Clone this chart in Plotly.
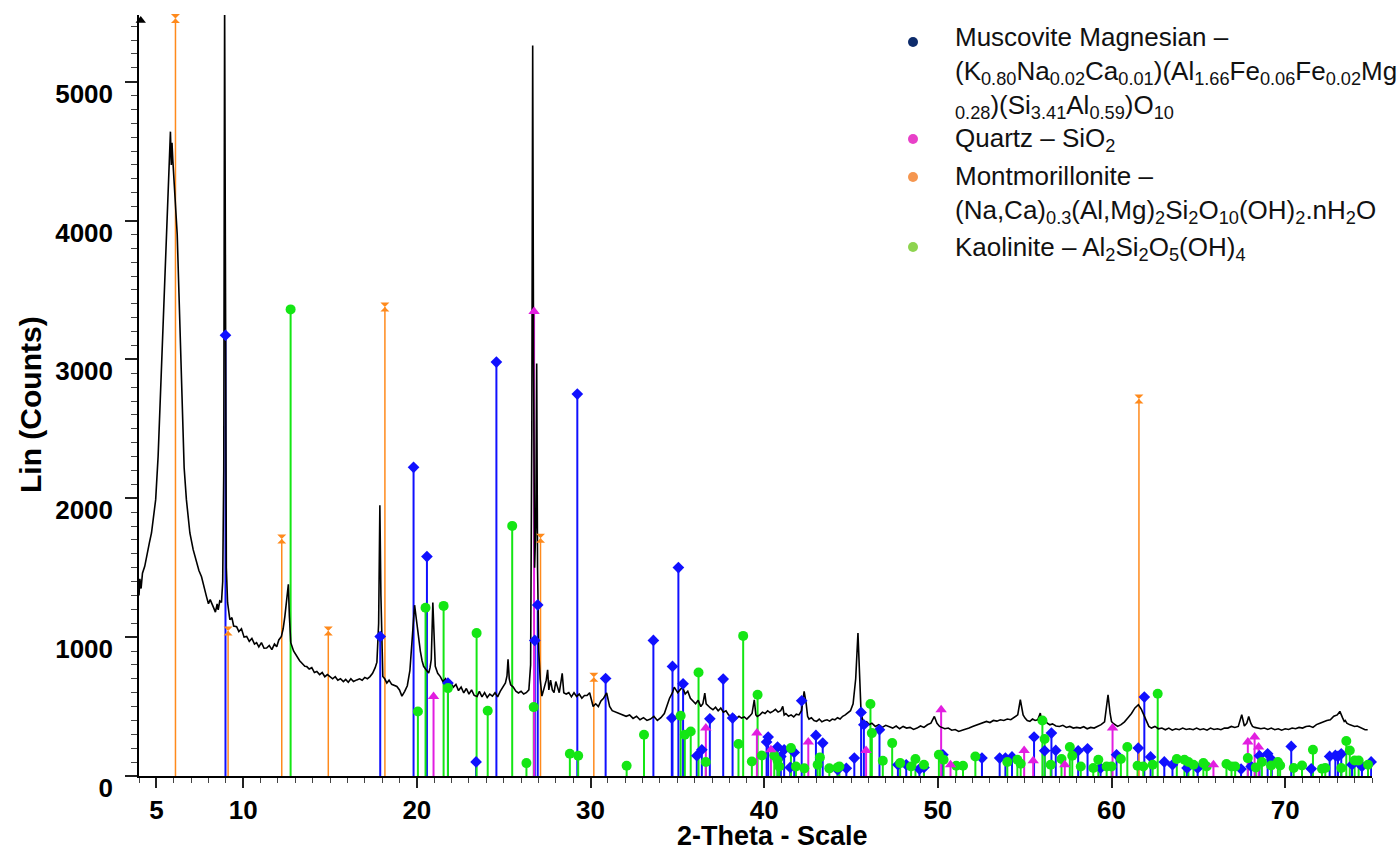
import plotly.graph_objects as go

# Measured diffraction pattern (2-theta, counts)
two_theta = [
    4.00, 4.05, 4.12, 4.20, 4.33, 4.40, 4.50, 4.60, 4.72, 4.85, 4.96, 5.10, 5.25, 5.38, 5.47,
    5.58, 5.66, 5.72, 5.78, 5.81, 5.86, 5.90, 5.95, 6.06, 6.12, 6.20, 6.30, 6.40, 6.50, 6.60,
    6.73, 6.93, 7.12, 7.31, 7.45, 7.60, 7.75, 7.89, 8.00, 8.10, 8.27, 8.40, 8.50, 8.56, 8.65,
    8.75, 8.82, 8.88, 8.93, 8.98, 9.03, 9.10, 9.23, 9.35, 9.45, 9.62, 9.75, 9.90, 10.05, 10.20,
    10.35, 10.50, 10.65, 10.77, 10.90, 11.05, 11.20, 11.35, 11.50, 11.65, 11.80, 11.93, 12.05,
    12.20, 12.30, 12.40, 12.50, 12.60, 12.66, 12.74, 12.90, 13.08, 13.25, 13.40, 13.55, 13.66,
    13.80, 13.95, 14.10, 14.24, 14.40, 14.55, 14.70, 14.85, 15.00, 15.15, 15.30, 15.45, 15.60,
    15.77, 15.90, 16.05, 16.20, 16.35, 16.54, 16.70, 16.85, 17.00, 17.15, 17.30, 17.45, 17.60,
    17.70, 17.80, 17.87, 17.93, 18.04, 18.15, 18.27, 18.40, 18.55, 18.70, 18.85, 19.00, 19.14,
    19.30, 19.45, 19.60, 19.72, 19.80, 19.87, 20.00, 20.10, 20.20, 20.30, 20.39, 20.50, 20.60,
    20.68, 20.76, 20.83, 20.92, 20.99, 21.06, 21.20, 21.35, 21.50, 21.65, 21.80, 21.95, 22.10,
    22.25, 22.40, 22.55, 22.70, 22.85, 23.00, 23.15, 23.30, 23.47, 23.60, 23.75, 23.90, 24.05,
    24.20, 24.35, 24.50, 24.65, 24.80, 24.95, 25.10, 25.19, 25.25, 25.32, 25.40, 25.55, 25.70,
    25.85, 26.00, 26.15, 26.30, 26.45, 26.55, 26.62, 26.67, 26.72, 26.78, 26.85, 26.90, 26.95,
    27.02, 27.10, 27.20, 27.30, 27.45, 27.53, 27.60, 27.70, 27.80, 27.90, 28.00, 28.10, 28.20,
    28.30, 28.37, 28.46, 28.60, 28.75, 28.90, 29.05, 29.20, 29.35, 29.50, 29.65, 29.80, 29.95,
    30.05, 30.15, 30.30, 30.45, 30.60, 30.75, 30.93, 31.02, 31.10, 31.25, 31.45, 31.65, 31.85,
    32.05, 32.25, 32.45, 32.65, 32.85, 33.05, 33.25, 33.45, 33.65, 33.85, 34.05, 34.25, 34.40,
    34.55, 34.72, 34.82, 34.92, 35.02, 35.15, 35.30, 35.45, 35.60, 35.75, 35.90, 36.05, 36.20,
    36.35, 36.47, 36.58, 36.66, 36.78, 36.90, 37.05, 37.20, 37.35, 37.50, 37.65, 37.80, 37.95,
    38.10, 38.25, 38.40, 38.55, 38.70, 38.85, 39.00, 39.15, 39.30, 39.43, 39.52, 39.60, 39.75,
    39.90, 40.05, 40.20, 40.35, 40.50, 40.65, 40.80, 40.95, 41.07, 41.15, 41.25, 41.40, 41.55,
    41.70, 41.85, 42.00, 42.15, 42.30, 42.42, 42.50, 42.58, 42.72, 42.87, 43.02, 43.17, 43.32,
    43.47, 43.62, 43.77, 43.92, 44.07, 44.22, 44.37, 44.52, 44.67, 44.82, 44.97, 45.12, 45.27,
    45.40, 45.50, 45.58, 45.66, 45.76, 45.90, 46.05, 46.20, 46.40, 46.60, 46.80, 47.00, 47.20,
    47.40, 47.60, 47.80, 48.00, 48.20, 48.40, 48.60, 48.80, 49.00, 49.20, 49.40, 49.60, 49.80,
    49.95, 50.10, 50.22, 50.40, 50.60, 50.80, 51.00, 51.20, 51.40, 51.60, 51.80, 52.00, 52.20,
    52.40, 52.60, 52.80, 53.00, 53.20, 53.40, 53.60, 53.80, 54.00, 54.20, 54.40, 54.60, 54.75,
    54.91, 55.02, 55.15, 55.30, 55.45, 55.60, 55.75, 55.90, 55.97, 56.05, 56.15, 56.30, 56.45,
    56.60, 56.80, 57.00, 57.20, 57.40, 57.60, 57.80, 58.00, 58.20, 58.40, 58.60, 58.80, 59.00,
    59.20, 59.40, 59.60, 59.80, 59.92, 60.00, 60.08, 60.20, 60.35, 60.55, 60.75, 60.95, 61.15,
    61.35, 61.55, 61.72, 61.89, 62.02, 62.15, 62.30, 62.50, 62.70, 62.90, 63.10, 63.30, 63.50,
    63.70, 63.90, 64.10, 64.30, 64.50, 64.70, 64.90, 65.10, 65.30, 65.50, 65.70, 65.90, 66.10,
    66.30, 66.50, 66.70, 66.90, 67.10, 67.30, 67.50, 67.65, 67.79, 67.90, 68.02, 68.12, 68.25,
    68.40, 68.60, 68.80, 69.00, 69.20, 69.40, 69.60, 69.80, 70.00, 70.20, 70.40, 70.60, 70.80,
    71.00, 71.20, 71.40, 71.60, 71.80, 72.00, 72.20, 72.40, 72.60, 72.80, 73.00, 73.15, 73.30,
    73.40, 73.46, 73.55, 73.70, 73.85, 74.00, 74.15, 74.30, 74.45, 74.60, 74.75, 74.96,
]
counts = [
    1300, 1420, 1350, 1460, 1510, 1560, 1600, 1680, 1750, 1880, 1990, 2300, 2800, 3200, 3520,
    3950, 4150, 4460, 4600, 4640, 4400, 4560, 4430, 4200, 4050, 3900, 3480, 3000, 2560, 2220,
    1990, 1750, 1630, 1545, 1480, 1435, 1350, 1290, 1240, 1270, 1220, 1180, 1240, 1196, 1260,
    1250, 1400, 2200, 5600, 3000, 1500, 1250, 1125, 1140, 1080, 1075, 1040, 1060, 1000, 1005,
    970, 990, 950, 960, 930, 960, 920, 922, 940, 910, 950, 930, 980,
    1005, 1060, 1150, 1250, 1380, 1150, 960, 900, 860, 830, 810, 790, 788,
    770, 780, 745, 752, 730, 745, 715, 730, 716, 700, 715, 690, 700,
    680, 695, 675, 700, 680, 692, 700, 690, 710, 700, 716, 740, 780,
    820, 1100, 1950, 1300, 716, 700, 670, 690, 660, 650, 645, 620, 575,
    610, 650, 760, 980, 1180, 1230, 1100, 980, 900, 830, 790, 770, 750,
    742, 780, 840, 1250, 1000, 790, 740, 716, 680, 700, 650, 670, 640,
    660, 615, 640, 598, 630, 590, 620, 580, 573, 610, 570, 600, 565,
    590, 575, 600, 570, 610, 640, 670, 720, 840, 700, 657, 640, 610,
    598, 610, 590, 600, 620, 800, 2500, 5260, 3000, 1500, 1800, 2970, 1500,
    900, 700, 575, 620, 690, 765, 620, 690, 620, 600, 680, 640, 600,
    680, 740, 600, 590, 600, 570, 600, 573, 590, 560, 580, 580, 600,
    540, 501, 520, 500, 540, 560, 598, 540, 501, 470, 460, 453, 440,
    430, 440, 415, 430, 405, 420, 400, 410, 429, 400, 420, 450, 500,
    560, 600, 640, 620, 600, 620, 640, 590, 610, 560, 540, 520, 545,
    500, 520, 597, 520, 501, 490, 477, 495, 470, 489, 460, 470, 440,
    429, 440, 415, 430, 417, 425, 410, 429, 450, 549, 440, 429, 440,
    460, 450, 470, 455, 465, 480, 460, 470, 501, 440, 450, 430, 440,
    425, 445, 440, 470, 609, 520, 430, 410, 420, 400, 393, 410, 390,
    400, 405, 395, 410, 405, 420, 410, 430, 440, 453, 470, 520, 700,
    1030, 700, 453, 410, 381, 390, 370, 380, 357, 370, 350, 365, 357,
    345, 360, 340, 357, 345, 350, 335, 345, 360, 350, 369, 380, 429,
    380, 357, 350, 340, 345, 330, 335, 321, 330, 335, 345, 357, 365,
    375, 385, 393, 385, 400, 395, 405, 400, 410, 405, 420, 440, 549,
    440, 417, 400, 393, 410, 400, 405, 453, 400, 420, 410, 380,
    369, 375, 360, 357, 365, 350, 357, 345, 350, 345, 355, 340, 350, 345,
    357, 370, 390, 585, 450, 393, 380, 370, 357, 370, 390, 420,
    450, 490, 513, 480, 429, 400, 357, 345, 357, 340, 345, 333, 345,
    330, 340, 333, 345, 335, 340, 333, 345, 333, 340, 330, 345, 335,
    340, 333, 345, 345, 357, 350, 357, 441, 360, 380, 429, 380, 357,
    350, 345, 340, 345, 335, 345, 333, 340, 330, 340, 335, 345, 340,
    350, 345, 357, 360, 350, 370, 380, 393, 400, 405, 430, 440, 465,
    420, 393, 400, 380, 370, 365, 357, 360, 350, 345, 333, 333,
]

# Reference patterns: peak positions (2-theta) and relative heights (counts)
musc_pos = [8.98, 17.89, 19.81, 20.58, 21.79, 23.41, 24.58, 26.79, 26.96, 29.24, 30.87, 33.62,
            34.68, 34.72, 35.06, 35.33, 36.12, 36.41, 36.87, 37.64, 38.18, 40.14, 40.23, 40.77,
            40.96, 41.15, 41.50, 41.73, 42.16, 42.98, 43.37, 44.23, 44.73, 45.19, 45.58, 45.74,
            46.64, 47.70, 48.18, 48.94, 49.20, 50.29, 52.54, 53.56, 53.89, 54.27, 55.54, 56.15,
            56.54, 56.79, 58.08, 58.62, 59.37, 60.29, 61.54, 61.89, 62.25, 63.04, 63.51, 64.35,
            64.96, 67.46, 68.04, 68.52, 68.99, 69.23, 70.35, 71.50, 72.56, 72.89, 73.04, 73.23,
            73.85, 74.42, 74.95]
musc_int = [3174, 1004, 2223, 1580, 669, 101, 2981, 976, 1232, 2750, 702, 976,
            417, 789, 1501, 664, 146, 189, 412, 698, 417, 245, 281, 209,
            141, 189, 62, 170, 542, 292, 237, 45, 55, 129, 458, 369,
            333, 81, 81, 50, 62, 153, 129, 129, 129, 137, 281, 182,
            309, 184, 182, 196, 57, 153, 201, 568, 137, 101, 81, 57,
            57, 50, 69, 146, 160, 117, 213, 52, 141, 148, 141, 160,
            81, 69, 101]

quartz_pos = [20.96, 26.75, 36.64, 39.58, 40.39, 42.54, 45.87, 50.19, 50.73, 54.97, 55.49,
              57.31, 60.06, 65.87, 67.85, 68.24, 68.47]
quartz_int = [573, 3345, 345, 309, 189, 245, 184, 477, 81, 184, 110,
              81, 345, 81, 245, 281, 209]

mont_pos = [6.10, 9.13, 12.22, 14.90, 18.16, 27.12, 30.19, 61.58]
mont_int = [5455, 1045, 1707, 1045, 3378, 1712, 712, 2714]

kaol_pos = [12.73, 20.06, 20.50, 21.54, 21.79, 23.44, 24.08, 25.49, 26.31, 26.73, 28.81, 29.29,
            32.08, 33.08, 35.19, 35.43, 35.77, 36.22, 36.64, 38.52, 38.79, 39.29, 39.62, 39.87,
            40.58, 40.77, 40.87, 41.54, 41.83, 42.31, 43.08, 43.21, 43.75, 44.23, 44.33, 46.12,
            46.20, 46.83, 47.37, 47.83, 48.46, 48.71, 49.20, 50.06, 50.33, 51.06, 51.45, 52.16,
            54.00, 54.58, 54.77, 56.02, 56.15, 56.50, 57.12, 57.60, 57.74, 58.23, 58.95, 59.24,
            59.72, 60.00, 60.54, 60.91, 61.50, 61.83, 62.37, 62.66, 63.76, 64.20, 64.43, 64.72,
            65.29, 65.48, 66.62, 66.91, 67.12, 67.85, 68.31, 68.66, 69.19, 69.58, 69.71, 70.49,
            70.97, 71.60, 72.12, 72.31, 73.23, 73.52, 73.72, 74.00, 74.23, 74.77]
kaol_int = [3360, 465, 1211, 1225, 633, 1029, 470, 1801, 93, 496, 160, 146,
            74, 297, 434, 297, 321, 745, 101, 230, 1009, 105, 585, 148,
            148, 112, 69, 201, 69, 55, 81, 134, 55, 62, 69, 518,
            309, 110, 237, 93, 69, 122, 81, 153, 117, 74, 74, 141,
            101, 117, 88, 400, 266, 81, 122, 209, 146, 69, 57, 117,
            69, 69, 122, 209, 74, 69, 81, 592, 122, 117, 101, 81,
            93, 69, 86, 69, 69, 129, 62, 101, 76, 101, 76, 57,
            76, 189, 52, 57, 57, 252, 184, 112, 112, 81]

x_tick_vals = [5, 10, 20, 30, 40, 50, 60, 70]
y_tick_vals = [0, 1000, 2000, 3000, 4000, 5000]

BLUE = "#1010ff"
MAGENTA = "#e21ee0"
ORANGE = "#ff8a1c"
GREEN = "#14e614"


def stick_xy(pos, inten):
    xs, ys = [], []
    for p, h in zip(pos, inten):
        xs += [p, p, None]
        ys += [0, h, None]
    return xs, ys


phases = [
    (musc_pos, musc_int, BLUE, 2.0, "diamond", 9),
    (kaol_pos, kaol_int, GREEN, 2.0, "circle", 10),
    (quartz_pos, quartz_int, MAGENTA, 2.0, "triangle-up", 10),
    (mont_pos, mont_int, ORANGE, 1.5, "hourglass", 9),
]

fig = go.Figure()

for pos, inten, col, lw, sym, ms in phases:
    sx, sy = stick_xy(pos, inten)
    fig.add_trace(go.Scatter(x=sx, y=sy, mode="lines",
                             line=dict(color=col, width=lw),
                             hoverinfo="skip", showlegend=False))

fig.add_trace(go.Scatter(x=two_theta, y=counts, mode="lines",
                         line=dict(color="black", width=1.6),
                         showlegend=False))

for pos, inten, col, lw, sym, ms in phases:
    fig.add_trace(go.Scatter(x=pos, y=inten, mode="markers",
                             marker=dict(symbol=sym, size=ms, color=col,
                                         line=dict(width=0)),
                             cliponaxis=False, showlegend=False))

# arrow head at the top of the intensity axis
fig.add_trace(go.Scatter(x=[4.1], y=[5440], mode="markers",
                         marker=dict(symbol="triangle-up", size=9, color="black"),
                         cliponaxis=False, showlegend=False, hoverinfo="skip"))

tick_font = dict(family="Liberation Sans, Arial, sans-serif", size=26, color="black",
                 weight="bold")

fig.update_xaxes(
    range=[4, 75], showline=True, linecolor="black", linewidth=1.5,
    tickmode="array", tickvals=x_tick_vals, ticktext=[str(v) for v in x_tick_vals],
    ticks="outside", ticklen=10, tickwidth=1.5, tickcolor="#222",
    minor=dict(dtick=1, tick0=0, ticks="outside", ticklen=5, tickwidth=1, tickcolor="#444",
               showgrid=False),
    showgrid=False, zeroline=False, tickfont=tick_font, ticklabelstandoff=0,
)
fig.update_yaxes(
    range=[0, 5480], showline=True, linecolor="black", linewidth=1.5,
    tickmode="array", tickvals=y_tick_vals, ticktext=[str(v) for v in y_tick_vals],
    ticks="outside", ticklen=12, tickwidth=1.5, tickcolor="#222",
    minor=dict(dtick=100, tick0=0, ticks="outside", ticklen=6, tickwidth=1, tickcolor="#444",
               showgrid=False),
    showgrid=False, zeroline=False, tickfont=tick_font, ticklabelshift=12,
    ticklabelstandoff=7,
)

W, H = 1398, 852
L, R, T, B = 139, 26, 15, 76
PW, PH = W - L - R, H - T - B


def px(xp):
    return (xp - L) / PW


def py(yp):
    return (H - B - yp) / PH


title_font = dict(family="Liberation Sans, Arial, sans-serif", size=27, color="black",
                  weight="bold")
annotations = [
    dict(text="2-Theta - Scale", x=px(772), y=py(836), xref="paper", yref="paper",
         showarrow=False, font=title_font, xanchor="center", yanchor="middle"),
    dict(text="Lin (Counts)", x=px(30), y=py(405), xref="paper", yref="paper",
         showarrow=False, font=dict(title_font, size=30), textangle=-90,
         xanchor="center", yanchor="middle"),
]

# Phase key: one text block per phase, with a coloured dot beside each
leg_font = dict(family="Liberation Sans, Arial, sans-serif", size=26, color="#111")
legend_blocks = [
    ("Muscovite Magnesian \u2013<br>"
     "(K<sub>0.80</sub>Na<sub>0.02</sub>Ca<sub>0.01</sub>)(Al<sub>1.66</sub>Fe<sub>0.06</sub>"
     "Fe<sub>0.02</sub>Mg<br>"
     "<sub>0.28</sub>)(Si<sub>3.41</sub>Al<sub>0.59</sub>)O<sub>10</sub>", 73),
    ("Quartz \u2013 SiO<sub>2</sub>", 139),
    ("Montmorillonite \u2013<br>"
     "(Na,Ca)<sub>0.3</sub>(Al,Mg)<sub>2</sub>Si<sub>2</sub>O<sub>10</sub>(OH)<sub>2</sub>"
     ".nH<sub>2</sub>O", 194),
    ("Kaolinite \u2013 Al<sub>2</sub>Si<sub>2</sub>O<sub>5</sub>(OH)<sub>4</sub>", 248),
]
for txt, yp in legend_blocks:
    annotations.append(dict(text=txt, x=px(953), y=py(yp), xref="paper", yref="paper",
                            showarrow=False, font=leg_font, xanchor="left",
                            yanchor="middle", align="left"))

legend_dots = [("#0d2b6b", 42), ("#e840c8", 139), ("#f5964f", 177), ("#8ed44f", 247)]
shapes = []
for col, yp in legend_dots:
    shapes.append(dict(type="circle", xref="paper", yref="paper",
                       xsizemode="pixel", ysizemode="pixel",
                       xanchor=px(913), yanchor=py(yp),
                       x0=-5, x1=5, y0=-5, y1=5,
                       fillcolor=col, line=dict(width=0)))

fig.update_layout(
    width=W, height=H,
    margin=dict(l=L, r=R, t=T, b=B, autoexpand=False),
    paper_bgcolor="white", plot_bgcolor="white",
    annotations=annotations, shapes=shapes,
    showlegend=False,
)

fig.write_html("out.html")
